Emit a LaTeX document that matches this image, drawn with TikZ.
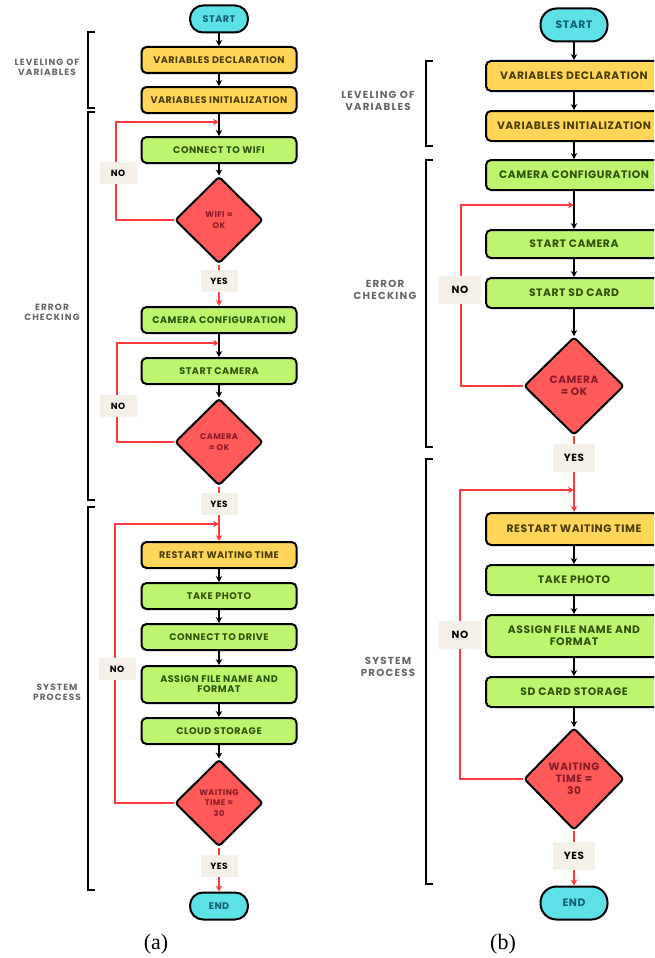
\documentclass[tikz,border=0pt]{standalone}
\usepackage{fontspec}
\newfontfamily\pop{Poppins}[LetterSpace=5]
\newfontfamily\popg{Poppins}[LetterSpace=12]
\newfontfamily\tms{Liberation Serif}
\usetikzlibrary{shapes.geometric,arrows.meta}
\definecolor{cyanS}{HTML}{5CE1E6}
\definecolor{boxY}{HTML}{FFD659}
\definecolor{boxG}{HTML}{BFF56E}
\definecolor{redD}{HTML}{FF5A5A}
\definecolor{redL}{HTML}{FF3B42}
\definecolor{txtY}{HTML}{4A3B00}
\definecolor{txtG}{HTML}{2C5408}
\definecolor{txtC}{HTML}{12606C}
\definecolor{txtR}{HTML}{8A1A28}
\definecolor{labBG}{HTML}{F4F0E8}
\definecolor{grpT}{HTML}{666666}
\begin{document}
\begin{tikzpicture}[x=1pt,y=-1pt,
  box/.style={draw=black, line width=2pt, rounded corners=5pt, minimum width=155pt, minimum height=26pt, inner sep=0pt, align=center, font=\pop\bfseries\fontsize{9.6}{10.2}\selectfont},
  ybox/.style={box, fill=boxY, text=txtY},
  gbox/.style={box, fill=boxG, text=txtG},
  term/.style={draw=black, line width=2pt, rounded corners=13pt, fill=cyanS, text=txtC, minimum width=58pt, minimum height=27pt, inner sep=0pt, font=\pop\bfseries\fontsize{9.6}{10.2}\selectfont},
  dec/.style={diamond, draw=black, line width=2pt, fill=redD, text=txtR, minimum width=88pt, minimum height=87pt, inner sep=0pt, align=center, rounded corners=3pt, font=\pop\bfseries\fontsize{8.2}{10.5}\selectfont},
  bigb/.style={minimum width=176pt, minimum height=30pt, font=\pop\bfseries\fontsize{10.8}{11.8}\selectfont},
  bigd/.style={minimum width=100pt, font=\pop\bfseries\fontsize{10.6}{11.8}\selectfont},
  lab/.style={fill=labBG, minimum width=37pt, minimum height=22pt, inner sep=0pt, font=\pop\bfseries\fontsize{9}{10}\selectfont},
  blab/.style={lab, minimum width=42pt, minimum height=28pt, font=\pop\bfseries\fontsize{10.4}{11}\selectfont},
  flow/.style={line width=1.8pt, -{Stealth[length=6pt,width=6.5pt]}},
  rflow/.style={flow, draw=redL, color=redL},
  brk/.style={line width=1.8pt, draw=black},
  grp/.style={text=grpT, align=center, inner sep=0pt, font=\popg\bfseries\fontsize{9}{10.2}\selectfont},
  bgrp/.style={grp, font=\popg\bfseries\fontsize{10.2}{12}\selectfont},
  captxt/.style={font=\tms\fontsize{22}{24}\selectfont, inner sep=0pt}]
\clip (0,0) rectangle (654,958);
\fill[white] (0,0) rectangle (654,958);

% ---------------- panel (a) ----------------
\node[term] (aS) at (219,19) {START};
\node[ybox] (aVD) at (219,60) {VARIABLES DECLARATION};
\node[ybox] (aVI) at (219,100) {VARIABLES INITIALIZATION};
\node[gbox] (aWF) at (219,150) {CONNECT TO WIFI};
\node[dec] (aD1) at (219,220) {WIFI =\\OK};
\node[gbox] (aCC) at (219,320) {CAMERA CONFIGURATION};
\node[gbox] (aSC) at (219,371) {START CAMERA};
\node[dec] (aD2) at (219,442) {CAMERA\\= OK};
\node[ybox] (aRW) at (219,555) {RESTART WAITING TIME};
\node[gbox] (aTP) at (219,596) {TAKE PHOTO};
\node[gbox] (aCD) at (219,637) {CONNECT TO DRIVE};
\node[gbox, minimum height=37pt] (aAF) at (219,684.5) {ASSIGN FILE NAME AND\\FORMAT};
\node[gbox] (aCS) at (219,731) {CLOUD STORAGE};
\node[dec] (aD3) at (219,803) {WAITING\\TIME =\\30};
\node[term] (aE) at (219,906) {END};
\coordinate (aJ1) at (219,122);
\coordinate (aJ2) at (219,343);
\coordinate (aJ3) at (219,524);

\draw[flow] (aS) -- (aVD);
\draw[flow] (aVD) -- (aVI);
\draw[flow] (aVI) -- (aWF);
\draw[flow] (aWF) -- (aD1);
\draw[rflow] (aD1) -- (aCC);
\draw[rflow] (aD1.west) -- ++(-58,0) |- (aJ1);
\draw[flow] (aCC) -- (aSC);
\draw[flow] (aSC) -- (aD2);
\draw[rflow] (aD2) -- (aRW);
\draw[rflow] (aD2.west) -- ++(-57,0) |- (aJ2);
\draw[flow] (aRW) -- (aTP);
\draw[flow] (aTP) -- (aCD);
\draw[flow] (aCD) -- (aAF);
\draw[flow] (aAF) -- (aCS);
\draw[flow] (aCS) -- (aD3);
\draw[rflow] (aD3) -- (aE);
\draw[rflow] (aD3.west) -- ++(-59,0) |- (aJ3);

\node[lab] (aY1) at (219,281) {YES};
\node[lab] (aY2) at (219,504) {YES};
\node[lab] (aY3) at (219,866) {YES};
\node[lab] (aN1) at (118,173) {NO};
\node[lab] (aN2) at (118,406) {NO};
\node[lab] (aN3) at (117,669) {NO};

\draw[brk] (95,32) -- (88,32) -- (88,108) -- (95,108);
\draw[brk] (95,112) -- (88,112) -- (88,500) -- (95,500);
\draw[brk] (95,507) -- (88,507) -- (88,890) -- (95,890);
\node[grp] (aG1) at (47,67) {LEVELING OF\\VARIABLES};
\node[grp] (aG2) at (52,312) {ERROR\\CHECKING};
\node[grp] (aG3) at (57,692) {SYSTEM\\PROCESS};
\node[captxt] (aCap) at (156,944) {(a)};

% ---------------- panel (b) ----------------
\node[term, minimum width=67pt, minimum height=33pt, rounded corners=16pt, font=\pop\bfseries\fontsize{10.8}{11.8}\selectfont] (bS) at (574,25) {START};
\node[ybox, bigb] (bVD) at (574,76) {VARIABLES DECLARATION};
\node[ybox, bigb] (bVI) at (574,126) {VARIABLES INITIALIZATION};
\node[gbox, bigb] (bCC) at (574,175) {CAMERA CONFIGURATION};
\node[gbox, bigb, minimum height=28pt] (bSC) at (574,244) {START CAMERA};
\node[gbox, bigb] (bSD) at (574,293) {START SD CARD};
\node[dec, bigd, minimum height=98pt] (bD1) at (574,386) {CAMERA\\= OK};
\node[ybox, bigb, minimum height=32pt] (bRW) at (574,529) {RESTART WAITING TIME};
\node[gbox, bigb] (bTP) at (574,580) {TAKE PHOTO};
\node[gbox, bigb, minimum height=42pt] (bAF) at (574,636) {ASSIGN FILE NAME AND\\FORMAT};
\node[gbox, bigb] (bSS) at (574,692) {SD CARD STORAGE};
\node[dec, bigd, minimum height=102pt] (bD2) at (574,779) {WAITING\\TIME =\\30};
\node[term, minimum width=67pt, minimum height=33pt, rounded corners=16pt, font=\pop\bfseries\fontsize{10.8}{11.8}\selectfont] (bE) at (574,903) {END};
\coordinate (bJ1) at (574,205);
\coordinate (bJ2) at (574,490);

\draw[flow] (bS) -- (bVD);
\draw[flow] (bVD) -- (bVI);
\draw[flow] (bVI) -- (bCC);
\draw[flow] (bCC) -- (bSC);
\draw[flow] (bSC) -- (bSD);
\draw[flow] (bSD) -- (bD1);
\draw[rflow] (bD1) -- (bRW);
\draw[rflow] (bD1.west) -- ++(-62,0) |- (bJ1);
\draw[flow] (bRW) -- (bTP);
\draw[flow] (bTP) -- (bAF);
\draw[flow] (bAF) -- (bSS);
\draw[flow] (bSS) -- (bD2);
\draw[rflow] (bD2) -- (bE);
\draw[rflow] (bD2.west) -- ++(-63,0) |- (bJ2);

\node[blab] (bY1) at (574,458) {YES};
\node[blab] (bY2) at (574,856) {YES};
\node[blab] (bN1) at (460,290) {NO};
\node[blab] (bN2) at (460,635) {NO};

\draw[brk] (433,61) -- (426,61) -- (426,146) -- (433,146);
\draw[brk] (433,160) -- (426,160) -- (426,447) -- (433,447);
\draw[brk] (433,459) -- (426,459) -- (426,884) -- (433,884);
\node[bgrp] (bG1) at (378,101) {LEVELING OF\\VARIABLES};
\node[bgrp] (bG2) at (385,290) {ERROR\\CHECKING};
\node[bgrp] (bG3) at (388,667) {SYSTEM\\PROCESS};
\node[captxt] (bCap) at (503,944) {(b)};
\end{tikzpicture}
\end{document}
